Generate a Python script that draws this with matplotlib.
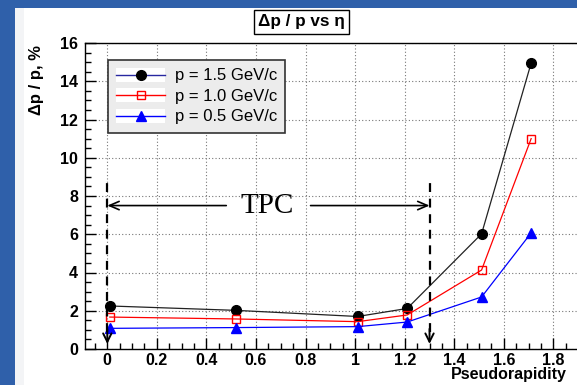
import numpy as np
import matplotlib
matplotlib.use("Agg")
import matplotlib.pyplot as plt
from matplotlib.patches import Rectangle
from matplotlib.lines import Line2D
from matplotlib.legend_handler import HandlerLine2D
from matplotlib.ticker import MultipleLocator

plt.rcParams['font.family'] = ['Liberation Sans', 'DejaVu Sans']

# dados
eta = [0.01, 0.52, 1.01, 1.21, 1.51, 1.71]
res_15 = [2.25, 2.02, 1.70, 2.12, 6.02, 14.95]
res_10 = [1.67, 1.57, 1.43, 1.78, 4.13, 11.0]
res_05 = [1.08, 1.12, 1.17, 1.41, 2.72, 6.07]
labels = ['p = 1.5 GeV/c', 'p = 1.0 GeV/c', 'p = 0.5 GeV/c']

# limites da regiao do TPC
tpc_min, tpc_max = 0.0, 1.3
tpc_y = 7.5
tpc_top = 8.7

azul_slide = '#2f60aa'


class HandlerFundoBranco(HandlerLine2D):
    # fundo branco atras do simbolo da legenda
    def create_artists(self, legend, orig_handle, xdescent, ydescent,
                       width, height, fontsize, trans):
        arts = super().create_artists(legend, orig_handle, xdescent, ydescent,
                                      width, height, fontsize, trans)
        fundo = Rectangle((-xdescent, -ydescent - 0.1 * height), width, height * 1.2,
                          facecolor='white', edgecolor='none', transform=trans)
        return [fundo] + arts


fig = plt.figure(figsize=(5.77, 3.85), dpi=100)
fig.patch.set_facecolor('white')
fig.patches.append(Rectangle((0, 0), 15 / 577, 1, transform=fig.transFigure,
                             facecolor=azul_slide, edgecolor='none', zorder=0))
fig.patches.append(Rectangle((15 / 577, 0), 9 / 577, 1, transform=fig.transFigure,
                             facecolor='#f3f4f6', edgecolor='none', zorder=0))
fig.patches.append(Rectangle((0, 1 - 8 / 385), 1, 8 / 385, transform=fig.transFigure,
                             facecolor=azul_slide, edgecolor='none', zorder=0))

ax = fig.add_axes([85 / 577, 36 / 385, 492 / 577, 306 / 385])

ax.plot(eta, res_15, color='#222222', lw=0.9, marker='o', ms=7, mfc='black', mec='black', zorder=4)
ax.plot(eta, res_10, color='red', lw=0.9, marker='s', ms=6, mfc='none', mec='red', mew=1, zorder=4)
ax.plot(eta, res_05, color='blue', lw=0.9, marker='^', ms=7, mfc='blue', mec='blue', zorder=4)

ax.set_xlim(-0.09, 1.895)
ax.set_ylim(0, 16)

ax.xaxis.set_minor_locator(MultipleLocator(0.05))
ax.yaxis.set_major_locator(MultipleLocator(2))
ax.yaxis.set_minor_locator(MultipleLocator(0.5))
ax.set_xticks(np.arange(0, 1.81, 0.2))
ax.set_xticklabels(['0', '0.2', '0.4', '0.6', '0.8', '1', '1.2', '1.4', '1.6', '1.8'])
ax.tick_params(which='both', direction='in', top=False, right=False, width=1)
ax.tick_params(which='major', length=8, labelsize=11.5)
ax.tick_params(axis='x', which='major', pad=3)
ax.tick_params(axis='y', which='major', pad=5)
ax.tick_params(which='minor', length=4)
for t in ax.get_xticklabels() + ax.get_yticklabels():
    t.set_fontweight('bold')

ax.grid(True, which='major', linestyle=(0, (1, 2)), color='#777777', lw=0.8)
ax.spines['right'].set_visible(False)
for s in ['left', 'bottom', 'top']:
    ax.spines[s].set_linewidth(1.0)

ax.set_ylabel('Δp / p, %', fontsize=12, fontweight='bold', loc='top')
ax.yaxis.set_label_coords(-0.083, 0.995)
ax.set_xlabel('Pseudorapidity', fontsize=11.5, fontweight='bold', loc='right')
ax.xaxis.set_label_coords(0.98, -0.06)

# regiao do TPC
for xv in [tpc_min, tpc_max]:
    ax.vlines(xv, 0.9, tpc_top, colors='black', linestyles=(0, (4, 3)), lw=1.6, zorder=5)
    ax.annotate('', xy=(xv, 0.12), xytext=(xv, 1.2),
                arrowprops=dict(arrowstyle='->,head_length=0.6,head_width=0.3', color='black', lw=1.4),
                zorder=5)
ax.annotate('', xy=(tpc_min, tpc_y), xytext=(0.48, tpc_y),
            arrowprops=dict(arrowstyle='->,head_length=0.7,head_width=0.3', color='black', lw=1.2,
                            shrinkA=0, shrinkB=0))
ax.annotate('', xy=(tpc_max, tpc_y), xytext=(0.82, tpc_y),
            arrowprops=dict(arrowstyle='->,head_length=0.7,head_width=0.3', color='black', lw=1.2,
                            shrinkA=0, shrinkB=0))
ax.text(0.645, tpc_y, 'TPC', family=['Liberation Serif', 'DejaVu Serif'], fontsize=21,
        ha='center', va='center')

# legenda
handles = [
    Line2D([], [], color='#2828a0', lw=1, marker='o', ms=7, mfc='black', mec='black'),
    Line2D([], [], color='red', lw=1, marker='s', ms=6, mfc='none', mec='red'),
    Line2D([], [], color='blue', lw=1, marker='^', ms=7, mfc='blue', mec='blue'),
]
leg = ax.legend(handles, labels, loc='upper left', bbox_to_anchor=(0.047, 0.944),
                borderaxespad=0, fontsize=12, handlelength=2.9, handletextpad=0.6,
                labelspacing=0.33, borderpad=0.5, fancybox=False, framealpha=1,
                handler_map={Line2D: HandlerFundoBranco()})
leg.get_frame().set_facecolor('#ececec')
leg.get_frame().set_edgecolor('#333333')
leg.get_frame().set_linewidth(1.2)
leg.set_zorder(6)

# titulo em caixa
fig.text(0.523, 0.943, 'Δp / p vs η', ha='center', va='center', fontsize=12.3, fontweight='bold',
         bbox=dict(boxstyle='square,pad=0.25', facecolor='white', edgecolor='black', lw=1))

fig.savefig('out.png', dpi=100)
